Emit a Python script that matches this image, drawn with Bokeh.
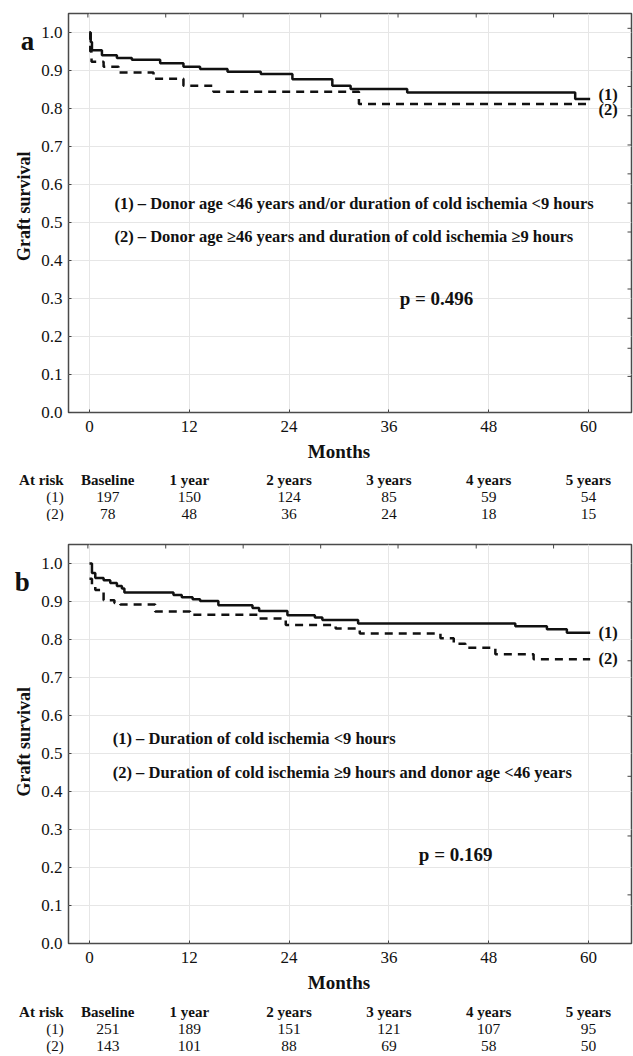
import math
from bokeh.plotting import figure
from bokeh.models import Range1d, FixedTicker, NumeralTickFormatter
from bokeh.layouts import column, row
from bokeh.core.properties import value
from bokeh.embed import file_html
from bokeh.resources import INLINE

# ---------------- data ----------------
# Panel a: step curves (time in months, survival)
a_t1 = [0, 0.15, 0.3, 1.5, 3.3, 5.1, 8.5, 11.3, 13.3, 16.6, 20.6, 24.4, 29.2, 31.4, 38.2, 58.4, 60.2]
a_s1 = [1.0, 0.975, 0.953, 0.940, 0.933, 0.928, 0.919, 0.910, 0.904, 0.897, 0.891, 0.877, 0.860, 0.851, 0.842, 0.825, 0.825]
a_t2 = [0, 0.1, 0.25, 1.7, 3.5, 7.7, 11.3, 14.9, 32.4, 60.2]
a_s2 = [1.0, 0.95, 0.923, 0.910, 0.895, 0.878, 0.860, 0.844, 0.812, 0.812]

# Panel b
b_t1 = [0, 0.3, 0.7, 1.7, 2.5, 3.3, 3.9, 4.2, 10.1, 11.1, 12.4, 13.3, 15.5, 19.6, 20.4, 23.8, 27.1, 28.0,
        32.3, 51.2, 55.0, 57.4, 60.2]
b_s1 = [1.0, 0.975, 0.962, 0.956, 0.949, 0.941, 0.934, 0.924, 0.917, 0.911, 0.906, 0.901, 0.890, 0.883,
        0.875, 0.864, 0.858, 0.851, 0.842, 0.835, 0.827, 0.818, 0.818]
b_t2 = [0, 0.3, 0.7, 1.7, 3.0, 3.7, 7.9, 12.1, 20.2, 23.6, 29.6, 32.5, 42.2, 43.8, 45.2, 48.8, 53.4, 60.2]
b_s2 = [0.96, 0.94, 0.930, 0.903, 0.896, 0.892, 0.874, 0.865, 0.855, 0.838, 0.829, 0.816, 0.803, 0.789,
        0.778, 0.761, 0.748, 0.748]

a_legend = ["(1) \u2013 Donor age <46 years and/or duration of cold ischemia <9 hours",
            "(2) \u2013 Donor age \u226546 years and duration of cold ischemia \u22659 hours"]
b_legend = ["(1) \u2013 Duration of cold ischemia <9 hours",
            "(2) \u2013 Duration of cold ischemia \u22659 hours and donor age <46 years"]
a_pvalue = "p = 0.496"
b_pvalue = "p = 0.169"
curve_labels = ["(1)", "(2)"]

risk_headers = ["Baseline", "1 year", "2 years", "3 years", "4 years", "5 years"]
row_headers = ["At risk", "(1)", "(2)"]
a_risk1 = [197, 150, 124, 85, 59, 54]
a_risk2 = [78, 48, 36, 24, 18, 15]
b_risk1 = [251, 189, 151, 121, 107, 95]
b_risk2 = [143, 101, 88, 69, 58, 50]

x_ticks = [0, 12, 24, 36, 48, 60]
y_ticks = [0.0, 0.1, 0.2, 0.3, 0.4, 0.5, 0.6, 0.7, 0.8, 0.9, 1.0]
top_ticks = [-0.19, 9.17, 18.48, 27.8, 37.1, 46.5, 55.8]
a_right_ticks = [1.011, 0.934, 0.858, 0.781, 0.704, 0.628, 0.551, 0.475, 0.401, 0.325, 0.248, 0.169, 0.095]
b_right_ticks = [0.899, 0.744, 0.598, 0.440, 0.283, 0.128]

# ---------------- layout constants ----------------
SERIF = "Liberation Serif"
INK = "#111111"
TOTAL_W = 633
LEFT_W = 38
MAIN_W = TOTAL_W - LEFT_W
FRAME_H = 399
BORDER_L, BORDER_R, BORDER_B = 30, 2, 28
X0, X1 = -2.52, 65.17
Y0, Y1 = 0.0, 1.05
PX_PER_X = (MAIN_W - BORDER_L - BORDER_R) / (X1 - X0)
PX_PER_Y = FRAME_H / (Y1 - Y0)
TAB_X0 = X0 - (LEFT_W + BORDER_L) / PX_PER_X
TAB_X1 = X1 + BORDER_R / PX_PER_X
col_x = [2.2, 12, 24, 36, 48, 60]
row_label_x = -3.1


def blank(width, height, xr, yr):
    f = figure(width=width, height=height, output_backend="svg", toolbar_location=None,
               x_range=xr, y_range=yr, x_axis_location=None, y_axis_location=None,
               min_border=0, title=None)
    f.min_border_left = f.min_border_right = f.min_border_top = f.min_border_bottom = 0
    f.outline_line_color = None
    f.grid.visible = False
    return f


def txt(f, xs, ys, texts, size, bold=True, align="left", baseline="middle", angle=0.0):
    f.text(x=xs, y=ys, text=texts, text_font=value(SERIF), text_font_size=value(size),
           text_font_style="bold" if bold else "normal", text_color=INK,
           text_align=align, text_baseline=baseline, angle=angle)


def make_panel(letter, t1, s1, t2, s2, legend, pval, risk1, risk2, right_ticks,
               border_top, letter_y, legend_xy, p_xy, end_ys, tab_h, tab_ys, months_y):
    main_h = border_top + FRAME_H + BORDER_B
    p = figure(width=MAIN_W, height=main_h, output_backend="svg", toolbar_location=None,
               x_range=Range1d(X0, X1), y_range=Range1d(Y0, Y1),
               min_border_left=BORDER_L, min_border_right=BORDER_R,
               min_border_top=border_top, min_border_bottom=BORDER_B)
    p.outline_line_color = "#4a4a4a"
    p.outline_line_width = 1.5

    p.xaxis.ticker = FixedTicker(ticks=x_ticks)
    p.yaxis.ticker = FixedTicker(ticks=y_ticks)
    p.yaxis.formatter = NumeralTickFormatter(format="0.0")
    for ax in (p.xaxis[0], p.yaxis[0]):
        ax.axis_line_color = None
        ax.major_tick_in = 3
        ax.major_tick_out = 0
        ax.major_tick_line_color = "#444444"
        ax.minor_tick_line_color = None
        ax.major_label_text_font = SERIF
        ax.major_label_text_font_size = "17px"
        ax.major_label_text_color = INK
    p.xaxis.major_label_standoff = 8
    p.yaxis.major_label_standoff = 6
    p.xgrid.grid_line_color = "#e6e6e6"
    p.ygrid.grid_line_color = "#e6e6e6"

    # secondary inner ticks on top and right edges
    tick_dy = 4 / PX_PER_Y
    tick_dx = 4 / PX_PER_X
    p.segment(x0=top_ticks, y0=[Y1] * len(top_ticks), x1=top_ticks, y1=[Y1 - tick_dy] * len(top_ticks),
              line_color="#444444", line_width=1)
    p.segment(x0=[X1] * len(right_ticks), y0=right_ticks, x1=[X1 - tick_dx] * len(right_ticks),
              y1=right_ticks, line_color="#444444", line_width=1)

    p.step(t1, s1, mode="after", line_color=INK, line_width=2.5)
    p.step(t2, s2, mode="after", line_color=INK, line_width=2.5, line_dash="8 6")

    txt(p, [legend_xy[0]] * 2, list(legend_xy[1]), legend, "16.5px")
    txt(p, [p_xy[0]], [p_xy[1]], [pval], "19px")
    txt(p, [61.2, 61.2], list(end_ys), curve_labels, "16.5px")

    # left strip: panel letter + y-axis title
    left = blank(LEFT_W, main_h, Range1d(0, LEFT_W), Range1d(main_h, 0))
    txt(left, [letter[1]], [letter_y], [letter[0]], "27px", align="center", baseline="alphabetic")
    txt(left, [23], [border_top + FRAME_H / 2], ["Graft survival"], "18px", align="center",
        angle=math.pi / 2)

    # table strip below
    tab = blank(TOTAL_W, tab_h, Range1d(TAB_X0, TAB_X1), Range1d(tab_h, 0))
    txt(tab, [30], [months_y], ["Months"], "19px", align="center")
    txt(tab, [row_label_x], [tab_ys[0]], [row_headers[0]], "15px", align="right")
    txt(tab, [row_label_x] * 2, list(tab_ys[1:]), row_headers[1:], "15px", bold=False, align="right")
    txt(tab, col_x, [tab_ys[0]] * len(col_x), risk_headers, "15px", align="center")
    txt(tab, col_x, [tab_ys[1]] * len(col_x), [str(v) for v in risk1], "15.5px", bold=False, align="center")
    txt(tab, col_x, [tab_ys[2]] * len(col_x), [str(v) for v in risk2], "15.5px", bold=False, align="center")

    return column(row(left, p, spacing=0), tab, spacing=0)


panel_a = make_panel(("a", 27), a_t1, a_s1, a_t2, a_s2, a_legend, a_pvalue, a_risk1, a_risk2, a_right_ticks,
                     border_top=13, letter_y=30, legend_xy=(3.0, (0.551, 0.463)), p_xy=(37.3, 0.301),
                     end_ys=(0.836, 0.797), tab_h=81, tab_ys=(39, 56, 73), months_y=10.5)
panel_b = make_panel(("b", 21.7), b_t1, b_s1, b_t2, b_s2, b_legend, b_pvalue, b_risk1, b_risk2, b_right_ticks,
                     border_top=23, letter_y=42, legend_xy=(2.8, (0.540, 0.451)), p_xy=(39.6, 0.233),
                     end_ys=(0.818, 0.750), tab_h=85, tab_ys=(40, 57, 74), months_y=10.5)

layout = column(panel_a, panel_b, spacing=0)
open("out.html", "w").write(file_html(layout, INLINE))
